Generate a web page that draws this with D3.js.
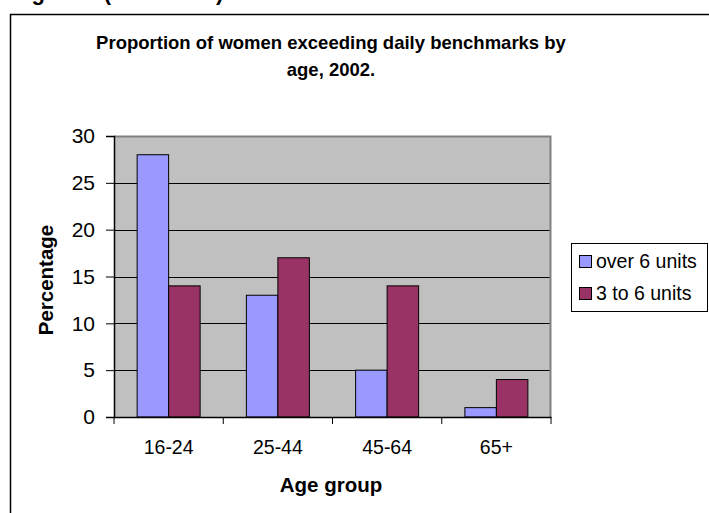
<!DOCTYPE html>
<html><head><meta charset="utf-8">
<script src="https://cdn.jsdelivr.net/npm/d3@7"></script>
<style>body{margin:0;background:#fff;}svg{display:block;font-family:"Liberation Sans",Arial,sans-serif;}</style>
</head><body>
<script>
const categories = ["16-24","25-44","45-64","65+"];
const seriesNames = ["over 6 units","3 to 6 units"];
const over6 = [28,13,5,1];
const three6 = [14,17,14,4];
const yTicks = [0,5,10,15,20,25,30];
const colors = ["#9999FF","#993366"];

const W=709,H=513;
const svg=d3.select("body").append("svg").attr("width",W).attr("height",H);
// cropped heading (only the descenders show, as in the source page)
svg.append("text").attr("x",12).attr("y",0).attr("font-size",22).attr("font-weight","bold").text("Figure 3 (continued)");
// chart frame
svg.append("rect").attr("x",10.5).attr("y",14.5).attr("width",720).attr("height",520).attr("fill","#fff").attr("stroke","#000").attr("stroke-width",1.5);

const L=114,R=551,T=136,B=417;
const x=d3.scaleBand().domain(categories).range([L,R]);
const y=d3.scaleLinear().domain([0,30]).range([B,T]);
svg.append("rect").attr("x",L).attr("y",T).attr("width",R-L).attr("height",B-T).attr("fill","#C0C0C0");
// gridlines
svg.append("g").selectAll("line").data(yTicks.filter(d=>d>0&&d<30)).join("line")
 .attr("x1",L).attr("x2",R).attr("y1",d=>Math.round(y(d))+0.5).attr("y2",d=>Math.round(y(d))+0.5).attr("stroke","#000");
// plot border top/right
svg.append("path").attr("d",`M${L},${T+0.5}H${R-0.5}V${B}`).attr("fill","none").attr("stroke","#808080").attr("stroke-width",2);

const data=[over6,three6];
const bw=31.5;
categories.forEach((c,i)=>{
  const cx=x(c)+x.bandwidth()/2;
  data.forEach((s,j)=>{
    const v=s[i];
    svg.append("rect").attr("x",cx-bw+j*bw).attr("y",y(v)).attr("width",bw).attr("height",y(0)-y(v))
      .attr("fill",colors[j]).attr("stroke","#000").attr("stroke-width",1);
  });
});

// y axis
const ya=svg.append("g").attr("transform",`translate(${L},0)`).call(d3.axisLeft(y).tickValues(yTicks).tickSize(8).tickPadding(11).tickFormat(d3.format("d")));
ya.selectAll("text").attr("font-size",21).attr("fill","#000").attr("font-family","Liberation Sans, Arial, sans-serif");
ya.select(".domain").attr("stroke","#000").attr("stroke-width",1.5);
ya.selectAll(".tick line").attr("stroke","#000");
// x axis
const xa=svg.append("g").attr("transform",`translate(0,${B})`).call(d3.axisBottom(x).tickSize(0).tickPadding(23));
xa.selectAll("text").attr("font-size",19.5).attr("fill","#000").attr("font-family","Liberation Sans, Arial, sans-serif");
xa.select(".domain").attr("stroke","#000").attr("stroke-width",1.5);
const bnd=[...categories.map(c=>x(c)),R];
svg.append("g").selectAll("line").data(bnd).join("line").attr("x1",d=>d).attr("x2",d=>d).attr("y1",B).attr("y2",B+7).attr("stroke","#000");

// titles
const title=svg.append("text").attr("text-anchor","middle").attr("font-size",18.5).attr("font-weight","bold");
title.append("tspan").attr("x",331).attr("y",49).text("Proportion of women exceeding daily benchmarks by");
title.append("tspan").attr("x",331).attr("y",76).text("age, 2002.");
svg.append("text").attr("x",331).attr("y",492).attr("text-anchor","middle").attr("font-size",20.5).attr("font-weight","bold").text("Age group");
svg.append("text").attr("transform","translate(53,280) rotate(-90)").attr("text-anchor","middle").attr("font-size",20.5).attr("font-weight","bold").text("Percentage");

// legend
const lg=svg.append("g");
lg.append("rect").attr("x",571.5).attr("y",243.5).attr("width",136).attr("height",68).attr("fill","#fff").attr("stroke","#000");
seriesNames.forEach((n,i)=>{
  const yy=261+i*32;
  lg.append("rect").attr("x",579.5).attr("y",yy-5.5).attr("width",12).attr("height",12).attr("fill",colors[i]).attr("stroke","#000");
  lg.append("text").attr("x",596).attr("y",yy+7).attr("font-size",19.5).text(n);
});
</script>
</body></html>
